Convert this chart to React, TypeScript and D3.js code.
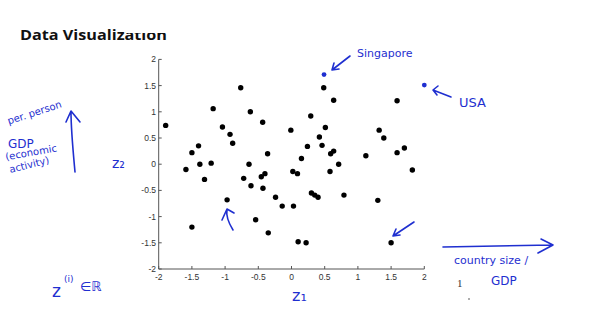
import React from "react";
import * as d3 from "d3";

const blackX = [-1.895, -0.765, -1.18, -0.62, -0.434, -1.04, -0.926, -0.886, -1.5, -1.4, -0.36, -0.01, -1.38, -1.21, -0.64, -1.59, -1.31, -0.72, -0.61, -0.455, -0.4, -0.43, -0.24, -0.14, -0.97, -0.54, -0.35, -1.5, 0.485, 0.635, 1.59, 0.29, 0.51, 0.42, 1.32, 1.39, 0.24, 0.46, 0.15, 0.59, 0.635, 1.12, 1.59, 1.7, 0.71, 0.02, 0.09, 0.58, 1.82, 0.3, 0.35, 0.4, 0.79, 1.3, 0.03, 0.1, 0.22, 1.5];
const blackY = [0.74, 1.46, 1.06, 1.0, 0.8, 0.71, 0.57, 0.4, 0.22, 0.35, 0.2, 0.65, 0.0, 0.02, 0.0, -0.1, -0.29, -0.27, -0.41, -0.24, -0.18, -0.46, -0.63, -0.8, -0.68, -1.06, -1.31, -1.2, 1.46, 1.22, 1.21, 0.92, 0.7, 0.52, 0.65, 0.5, 0.34, 0.36, 0.11, 0.2, 0.25, 0.16, 0.22, 0.31, 0.0, -0.14, -0.18, -0.14, -0.11, -0.55, -0.59, -0.63, -0.59, -0.69, -0.8, -1.48, -1.5, -1.5];
const highlightNames = ["Singapore", "USA"];
const highlightX = [0.49, 2.0];
const highlightY = [1.71, 1.51];
const xTicks = [-2, -1.5, -1, -0.5, 0, 0.5, 1, 1.5, 2];
const yTicks = [-2, -1.5, -1, -0.5, 0, 0.5, 1, 1.5, 2];

const BLUE = "#1f2fd0";

export default function App() {
  const x = d3.scaleLinear().domain([-2, 2]).range([158.7, 424.3]);
  const y = d3.scaleLinear().domain([-2, 2]).range([269, 59.4]);
  const hand = { fill: BLUE, fontFamily: "DejaVu Sans" };
  const pen = { stroke: BLUE, strokeWidth: 1.6, fill: "none", strokeLinecap: "round" as const, strokeLinejoin: "round" as const };
  return (
    <svg width={598} height={317} style={{ position: "absolute", left: 0, top: 0, background: "#fff" }}>
      <rect width={598} height={317} fill="#fff" />
      <text x={20} y={39.5} fontFamily="Open Sans" fontWeight="bold" fontSize={15} textLength={147} lengthAdjust="spacingAndGlyphs" fill="#111">Data Visualization</text>
      <rect x={126} y={0} width={50} height={33} fill="#fff" />

      {/* axes */}
      <g stroke="#555" strokeWidth={1} fill="none">
        <line x1={x(-2)} x2={x(2)} y1={y(-2)} y2={y(-2)} />
        <line x1={x(-2)} x2={x(-2)} y1={y(-2)} y2={y(2)} />
        {xTicks.map((t) => (
          <line key={"xt" + t} x1={x(t)} x2={x(t)} y1={y(-2)} y2={y(-2) - 3} />
        ))}
        {yTicks.map((t) => (
          <line key={"yt" + t} x1={x(-2)} x2={x(-2) + 3} y1={y(t)} y2={y(t)} />
        ))}
      </g>
      <g fontFamily="Liberation Sans" fontSize={8.5} fill="#333">
        {xTicks.map((t) => (
          <text key={"xl" + t} x={x(t)} y={280} textAnchor="middle">{String(t)}</text>
        ))}
        {yTicks.map((t) => (
          <text key={"yl" + t} x={156} y={y(t) + 3} textAnchor="end">{String(t)}</text>
        ))}
      </g>

      {blackX.map((v, i) => (
        <circle key={"p" + i} cx={x(v)} cy={y(blackY[i])} r={2.7} fill="#000" />
      ))}
      {highlightX.map((v, i) => (
        <circle key={"h" + highlightNames[i]} cx={x(v)} cy={y(highlightY[i])} r={2.4} fill={BLUE} />
      ))}

      {/* annotations */}
      <text x={357} y={57} fontSize={11} {...hand}>{highlightNames[0]}</text>
      <path d="M350,56 L332,70 M332,70 L334,63 M332,70 L339,69" {...pen} />
      <text x={459} y={107} fontSize={13} {...hand}>{highlightNames[1]}</text>
      <path d="M451,97 L433,90 M433,90 L438,86 M433,90 L437,95" {...pen} />
      <path d="M414,222 L393,236 M393,236 L396,229 M393,236 L400,235" {...pen} />
      <path d="M233,230 C228,222 226,215 227,209 M222,220 L227,209 L234,213" {...pen} />

      <g transform="rotate(-18 10 122)">
        <text x={8} y={124} fontSize={10} {...hand}>per. person</text>
      </g>
      <text x={8} y={148} fontSize={12} {...hand}>GDP</text>
      <g transform="rotate(-10 8 160)">
        <text x={6} y={160} fontSize={10} {...hand}>(economic</text>
      </g>
      <g transform="rotate(-14 10 172)">
        <text x={10} y={173} fontSize={10} {...hand}>activity)</text>
      </g>
      <path d="M75,172 C73,150 71,130 71,112 M66,122 L71,111 L80,122" {...pen} />
      <text x={112} y={168} fontSize={14} {...hand}>z₂</text>
      <text x={292} y={301} fontSize={16} {...hand}>z₁</text>
      <text x={52} y={297} fontSize={17} {...hand}>z</text>
      <text x={64} y={282} fontSize={9} {...hand}>(i)</text>
      <text x={80} y={291} fontSize={13} {...hand}>∈ℝ</text>

      <path d="M443,247 L553,245 M541,239 L553,245 L538,253" {...pen} />
      <text x={454} y={264} fontSize={11} {...hand}>country size /</text>
      <text x={491} y={285} fontSize={12} {...hand}>GDP</text>
      <text x={457} y={287} fontFamily="Liberation Serif" fontSize={11} fill="#333">1</text>
      <circle cx={469} cy={299} r={0.8} fill="#444" />
    </svg>
  );
}
